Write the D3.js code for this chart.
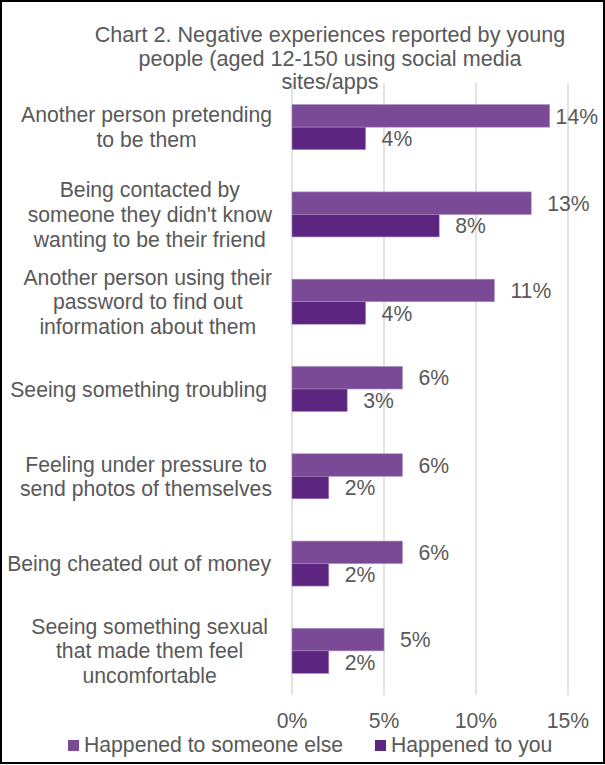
<!DOCTYPE html>
<html><head><meta charset="utf-8">
<script src="https://cdn.jsdelivr.net/npm/d3@7"></script>
<style>
body{margin:0;background:#fff}
svg{display:block}
text{font-family:"Liberation Sans",Arial,sans-serif;fill:#595959}
</style>
</head><body>
<svg id="c" width="605" height="765"></svg>
<script>
const titleLines = ["Chart 2. Negative experiences reported by young", "people (aged 12-150 using social media", "sites/apps"];
const categories = [
  "Another person pretending\nto be them",
  "Being contacted by\nsomeone they didn't know\nwanting to be their friend",
  "Another person using their\npassword to find out\ninformation about them",
  "Seeing something troubling",
  "Feeling under pressure to\nsend photos of themselves",
  "Being cheated out of money",
  "Seeing something sexual\nthat made them feel\nuncomfortable"
];
const seriesNames = ["Happened to someone else", "Happened to you"];
const someoneElse = [14, 13, 11, 6, 6, 6, 5];
const toYou = [4, 8, 4, 3, 2, 2, 2];
const xTicks = [0, 5, 10, 15];
const colors = ["#7b4a97", "#5c2580"];

const svg = d3.select("#c");
const FS = 21.2;

// border
svg.append("rect").attr("x", 1).attr("y", 1).attr("width", 603).attr("height", 762)
  .attr("fill", "none").attr("stroke", "#000").attr("stroke-width", 2);

const x = d3.scaleLinear().domain([0, 15]).range([292, 568]);
const y = d3.scaleBand().domain(categories).range([83.5, 694.5]).padding(0);
const ySub = d3.scaleBand().domain(seriesNames).range([0, 45]).padding(0);

// gridlines
svg.append("g").selectAll("line").data(xTicks).join("line")
  .attr("x1", d => x(d)).attr("x2", d => x(d))
  .attr("y1", 83).attr("y2", 695)
  .attr("stroke", "#d9d9d9").attr("stroke-width", 1.5);

// title
svg.append("g").selectAll("text").data(titleLines).join("text")
  .attr("x", 330).attr("y", (d, i) => 42 + i * 23.6)
  .attr("text-anchor", "middle").attr("font-size", 21.6).text(d => d);

// bars
const rows = categories.map((c, i) => ({c, vals: [someoneElse[i], toYou[i]]}));
const g = svg.append("g");
rows.forEach(r => {
  const top = y(r.c) + y.bandwidth() / 2 - ySub.range()[1] / 2;
  r.vals.forEach((v, j) => {
    const s = seriesNames[j];
    g.append("rect")
      .attr("x", x(0)).attr("y", top + ySub(s))
      .attr("width", x(v) - x(0)).attr("height", ySub.bandwidth())
      .attr("fill", colors[j]).attr("stroke", "#a58bbd").attr("stroke-width", 0.6);
    const t = g.append("text")
      .attr("y", top + ySub(s) + ySub.bandwidth() / 2)
      .attr("dy", "0.36em").attr("font-size", FS).text(v + "%");
    const w = t.node().getComputedTextLength();
    t.attr("x", Math.min(x(v) + 16, 598 - w));
  });
});

// category labels
const lh = 24.6;
const rightEdge = [272, 272, 272, 267, 272, 271, 268];
categories.forEach((c, ci) => {
  const lines = c.split("\n");
  const cy = y(c) + y.bandwidth() / 2;
  const t = svg.append("text").attr("font-size", FS).attr("text-anchor", "middle");
  const spans = lines.map((l, i) => t.append("tspan")
    .attr("y", cy + (i - (lines.length - 1) / 2) * lh).attr("dy", "0.36em").text(l));
  const maxW = d3.max(spans, s => s.node().getComputedTextLength());
  const cx = rightEdge[ci] - maxW / 2;
  spans.forEach(s => s.attr("x", cx));
});

// x tick labels
svg.append("g").selectAll("text").data(xTicks).join("text")
  .attr("x", d => x(d)).attr("y", 728).attr("text-anchor", "middle")
  .attr("font-size", FS).text(d => d + "%");

// legend
const legX = [68, 375];
seriesNames.forEach((s, i) => {
  svg.append("rect").attr("x", legX[i]).attr("y", 740).attr("width", 11).attr("height", 11).attr("fill", colors[i]);
  svg.append("text").attr("x", legX[i] + 16).attr("y", 752).attr("font-size", FS).text(s);
});
</script>
</body></html>
